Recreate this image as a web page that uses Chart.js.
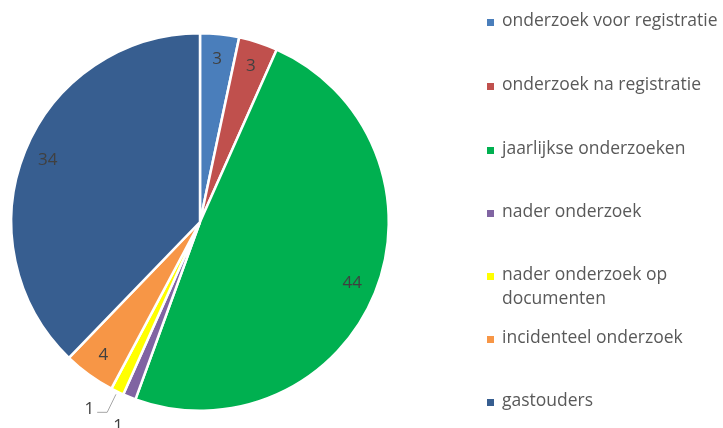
<!DOCTYPE html>
<html><head><meta charset="utf-8">
<script src="https://cdn.jsdelivr.net/npm/chart.js@4"></script>
<style>html,body{margin:0;padding:0;background:#fff;}#wrap{width:723px;height:428px;position:relative;}</style>
</head><body><div id="wrap"><canvas id="c" width="723" height="428"></canvas></div>
<script>
const categories = ["onderzoek voor registratie","onderzoek na registratie","jaarlijkse onderzoeken","nader onderzoek","nader onderzoek op documenten","incidenteel onderzoek","gastouders"];
const legendLines = [["onderzoek voor registratie"],["onderzoek na registratie"],["jaarlijkse onderzoeken"],["nader onderzoek"],["nader onderzoek op","documenten"],["incidenteel onderzoek"],["gastouders"]];
const values = [3,3,44,1,1,4,34];
const colors = ["#4A7EBB","#C0504D","#00B050","#8064A2","#FFFF00","#F79646","#375E90"];

const labelPlugin = {
  id:'labels',
  afterDatasetsDraw(chart){
    const ctx = chart.ctx;
    const meta = chart.getDatasetMeta(0);
    ctx.save();
    ctx.font = '17px "Open Sans", sans-serif';
    ctx.fillStyle = '#404040';
    ctx.textAlign='center'; ctx.textBaseline='middle';
    meta.data.forEach((arc,i)=>{
      const mid = (arc.startAngle+arc.endAngle)/2;
      const R = arc.outerRadius;
      const v = String(values[i]);
      if (values[i] > 1) {
        const r = R*0.87;
        ctx.fillText(v, arc.x + Math.cos(mid)*r, arc.y + Math.sin(mid)*r);
      } else if (i === 3) {
        const r = R*1.1;
        ctx.fillText(v, arc.x + Math.cos(mid)*r - 4, arc.y + Math.sin(mid)*r + 12);
      } else {
        const x0 = arc.x + Math.cos(mid)*(R+3), y0 = arc.y + Math.sin(mid)*(R+3);
        const x1 = arc.x + Math.cos(mid)*(R+23), y1 = arc.y + Math.sin(mid)*(R+23);
        ctx.strokeStyle='#A6A6A6'; ctx.lineWidth=1;
        ctx.beginPath(); ctx.moveTo(x0,y0); ctx.lineTo(x1,y1); ctx.lineTo(x1-10,y1); ctx.stroke();
        ctx.textAlign='right';
        ctx.fillText(v, x1-13, y1-3);
        ctx.textAlign='center';
      }
    });
    ctx.restore();
  }
};

const legendPlugin = {
  id:'myLegend',
  afterDraw(chart){
    const ctx = chart.ctx;
    ctx.save();
    ctx.font = '17.5px "Open Sans", sans-serif';
    ctx.textBaseline='middle';
    const ys = [21,85,149,212,275,338,401];
    legendLines.forEach((lines,i)=>{
      const y = ys[i];
      ctx.fillStyle = colors[i];
      ctx.fillRect(487,y-2,7,7);
      ctx.fillStyle = '#595959';
      lines.forEach((t,j)=>ctx.fillText(t,502,y+j*24));
    });
    ctx.restore();
  }
};

new Chart(document.getElementById('c'),{
  type:'pie',
  data:{labels:categories,datasets:[{data:values,backgroundColor:colors,borderColor:'#fff',borderWidth:2.5}]},
  options:{
    responsive:false,animation:false,
    layout:{padding:{left:10,right:333,top:32,bottom:16}},
    plugins:{legend:{display:false},tooltip:{enabled:false}}
  },
  plugins:[labelPlugin,legendPlugin]
});
</script></body></html>
